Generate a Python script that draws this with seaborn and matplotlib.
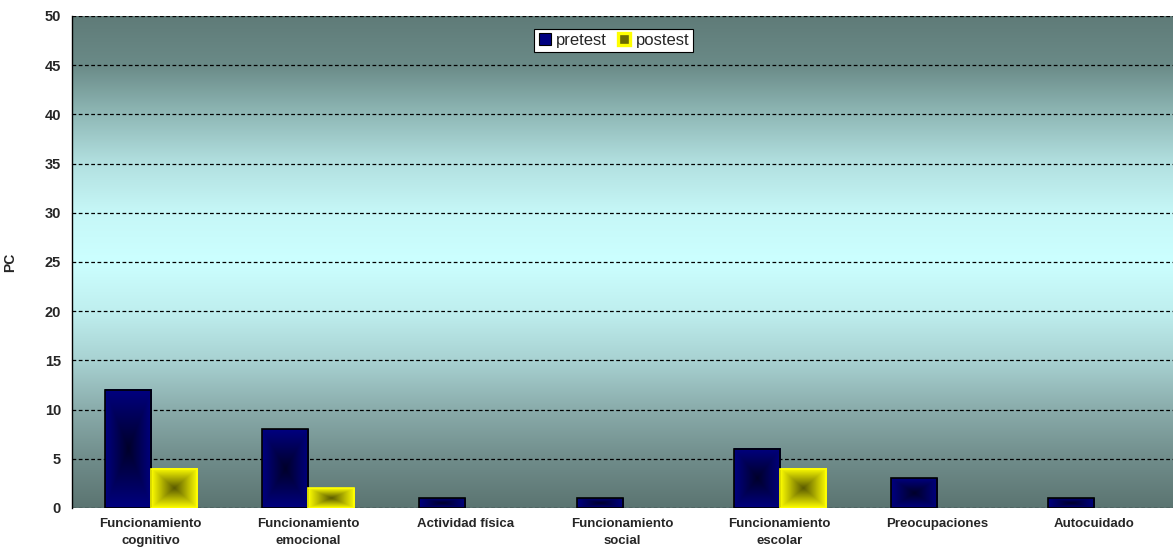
import numpy as np
import pandas as pd
import matplotlib
matplotlib.use("Agg")
import matplotlib.pyplot as plt
import seaborn as sns
from matplotlib.lines import Line2D
from matplotlib.colors import to_rgb, to_hex

# Data
categories = [
    "Funcionamiento\ncognitivo",
    "Funcionamiento\nemocional",
    "Actividad física",
    "Funcionamiento\nsocial",
    "Funcionamiento\nescolar",
    "Preocupaciones",
    "Autocuidado",
]
pretest = [12, 8, 1, 1, 6, 3, 1]
postest = [4, 2, 0, 0, 4, 0, 0]
series = ["pretest", "postest"]
y_ticks = [0, 5, 10, 15, 20, 25, 30, 35, 40, 45, 50]

df = pd.DataFrame({
    "categoria": categories * 2,
    "serie": [series[0]] * len(categories) + [series[1]] * len(categories),
    "PC": pretest + postest,
})

sns.set_theme(style="white")
plt.rcParams["font.family"] = ["Liberation Sans", "DejaVu Sans"]

fig = plt.figure(figsize=(11.73, 5.49), dpi=100)
ax = fig.add_axes([0.0614, 0.0747, 0.9386, 0.8962])

# Plot-area background: vertical gradient, light cyan in the middle
bg_v = [0, 5, 10, 15, 20, 25, 30, 35, 40, 45, 50]
bg_c = ["#5b7471", "#708d8b", "#8aacab", "#a8d2d2", "#bfefef", "#ccffff",
        "#c6f7f7", "#b2e0e0", "#8fb8b6", "#6a8a87", "#5f7b78"]
rows = np.linspace(50, 0, 600)
rgb = np.array([to_rgb(c) for c in bg_c])
grad = np.stack([np.interp(rows, bg_v, rgb[:, k]) for k in range(3)], axis=-1)
ax.imshow(grad[:, None, :], extent=[0, 1, 0, 1], transform=ax.transAxes,
          aspect="auto", zorder=0, interpolation="bilinear")

palette = {"pretest": "#000080", "postest": "#ffff00"}
sns.barplot(data=df, x="categoria", y="PC", hue="serie", hue_order=series,
            palette=palette, width=0.585, edgecolor="black", linewidth=1.2,
            saturation=1, ax=ax, legend=False, zorder=3)

# Rectangular "from centre" shading on every bar
shade = {
    "#000080": (np.array(to_rgb("#000080")), np.array(to_rgb("#00002a"))),
    "#ffff00": (np.array(to_rgb("#ffff00")), np.array(to_rgb("#5a5a00"))),
}
n = 120
u = np.linspace(-1, 1, n)
dist = np.maximum(np.abs(u)[None, :], np.abs(u)[:, None])
for p in list(ax.patches):
    h = p.get_height()
    if h <= 0:
        p.set_visible(False)
        continue
    fc = to_hex(p.get_facecolor()[:3])
    edge, center = shade[fc]
    img = center[None, None, :] + (edge - center)[None, None, :] * dist[:, :, None]
    x0, w = p.get_x(), p.get_width()
    ax.imshow(img, extent=[x0, x0 + w, p.get_y(), p.get_y() + h],
              aspect="auto", zorder=2.5, interpolation="bilinear")
    p.set_facecolor("none")
    if fc == "#ffff00":
        p.set_edgecolor("#ffff00")

ax.set_xlim(-0.5, len(categories) - 0.5)
ax.set_ylim(0, 50)
ax.set_yticks(y_ticks)
ax.set_yticklabels([str(t) for t in y_ticks], fontweight="bold", fontsize=10.5)
ax.set_xticks(range(len(categories)))
ax.set_xticklabels(categories, fontweight="bold", fontsize=9.5, linespacing=1.6)
ax.tick_params(axis="y", length=5, width=1, color="#444444", direction="out", pad=3)
ax.tick_params(axis="x", length=0, pad=7)

ax.yaxis.grid(True, linestyle=(0, (3, 2)), color="black", linewidth=0.9, zorder=1)
ax.xaxis.grid(False)
ax.set_axisbelow(True)

for side in ["top", "right", "bottom"]:
    ax.spines[side].set_visible(False)
ax.spines["left"].set_color("black")
ax.spines["left"].set_linewidth(1.0)
ax.spines["left"].set_zorder(4)

ax.set_xlabel("")
ax.set_ylabel("PC", fontweight="bold", fontsize=10)
ax.yaxis.set_label_coords(-0.05, 0.5)

handles = [
    Line2D([], [], linestyle="none", marker="s", markersize=8,
           markerfacecolor="#000080", markeredgecolor="black", markeredgewidth=0.8),
    Line2D([], [], linestyle="none", marker="s", markersize=8,
           markerfacecolor="#6b6b00", markeredgecolor="#ffff00", markeredgewidth=2.4),
]
leg = fig.legend(handles, series, loc="center", bbox_to_anchor=(0.523, 0.926),
                 ncol=2, frameon=True, fancybox=False, fontsize=12,
                 handlelength=0.8, handletextpad=0.3, columnspacing=0.6,
                 borderpad=0.25, edgecolor="black", framealpha=1)
leg.get_frame().set_linewidth(0.8)

fig.savefig("out.png", dpi=100)
